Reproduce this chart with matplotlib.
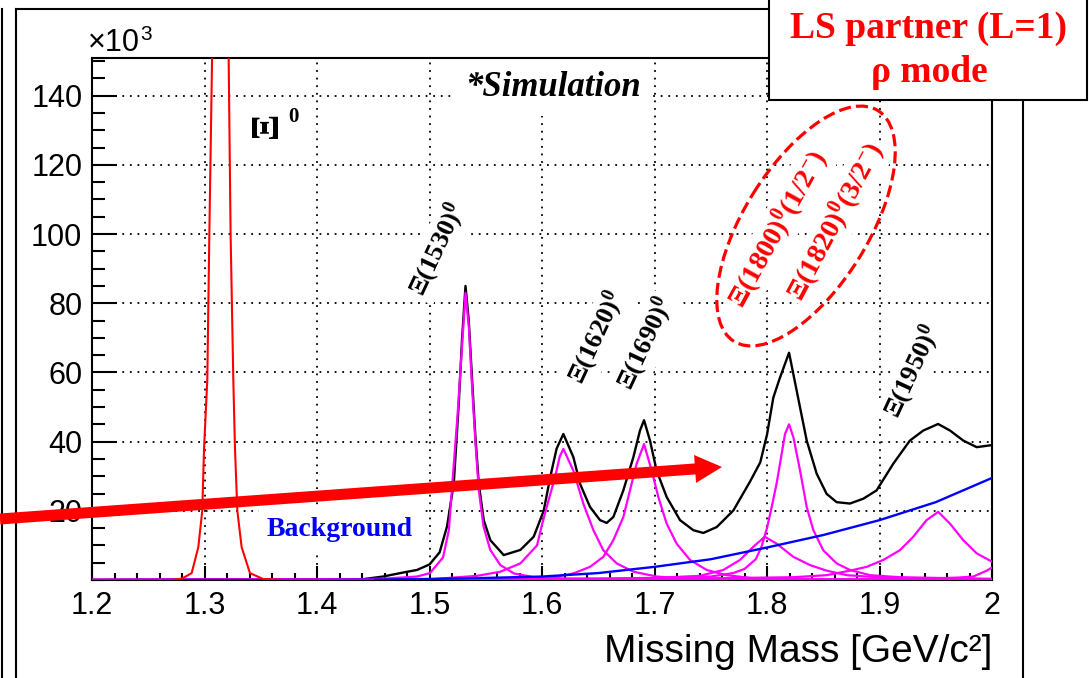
import matplotlib
matplotlib.use("Agg")
import matplotlib.pyplot as plt
from matplotlib.lines import Line2D
from matplotlib.patches import Ellipse, FancyArrow, Rectangle
from matplotlib.ticker import MultipleLocator, FuncFormatter
from matplotlib.transforms import Affine2D

# counts are in units of 10^3, mass in GeV/c^2
total_mass = [1.20, 1.44, 1.4587, 1.4772, 1.4889, 1.500, 1.509, 1.5156, 1.5216, 1.526,
              1.529, 1.532, 1.5349, 1.5379, 1.5408, 1.5438, 1.5482, 1.5541, 1.566, 1.5808,
              1.5926, 1.6015, 1.6075, 1.613, 1.619, 1.6279, 1.6338, 1.6427, 1.6516, 1.6575,
              1.6634, 1.6723, 1.6812, 1.6871, 1.6907, 1.696, 1.7019, 1.7108, 1.7227, 1.7345,
              1.7434, 1.7553, 1.7701, 1.785, 1.794, 1.800, 1.8056, 1.811, 1.8196, 1.8264,
              1.8353, 1.8442, 1.853, 1.8619, 1.8737, 1.8856, 1.8974, 1.9122, 1.927, 1.9389,
              1.9521, 1.9627, 1.9745, 1.9864, 2.000]
total_counts = [0.0, 0.2, 1.0, 2.2, 2.9, 4.5, 8.0, 15.5, 28.0, 51.0,
                70.0, 85.0, 75.0, 57.7, 41.4, 27.9, 17.3, 11.5, 7.2, 8.7,
                12.5, 20.0, 30.0, 38.0, 42.2, 35.5, 27.8, 21.1, 17.3, 16.5,
                18.2, 25.9, 35.5, 43.2, 46.2, 40.3, 31.6, 24.0, 17.3, 14.4,
                13.6, 15.3, 20.1, 28.5, 34.0, 42.0, 52.7, 58.0, 65.7, 54.7,
                40.3, 30.7, 24.9, 22.5, 22.1, 23.5, 25.9, 33.6, 40.3, 43.2,
                45.1, 43.2, 40.3, 38.4, 39.0]

xi1530_mass = [1.20, 1.42, 1.46, 1.4889, 1.5004, 1.512, 1.5172, 1.5201, 1.525, 1.529, 1.532,
               1.535, 1.538, 1.541, 1.5438, 1.548, 1.554, 1.563, 1.575, 1.593, 1.62, 1.70, 2.0]
xi1530_counts = [0.0, 0.1, 0.4, 1.0, 2.0, 6.5, 14.4, 27.0, 48.0, 68.0, 83.0,
                 73.0, 55.0, 39.0, 26.0, 15.5, 8.7, 4.3, 1.9, 0.8, 0.4, 0.1, 0.0]

xi1620_mass = [1.20, 1.50, 1.5423, 1.563, 1.5808, 1.5956, 1.600, 1.6041, 1.6118, 1.6157, 1.619,
               1.6279, 1.6368, 1.6457, 1.6545, 1.6664, 1.6812, 1.702, 1.7227, 1.76, 1.85, 2.0]
xi1620_counts = [0.0, 0.2, 1.2, 2.4, 4.8, 10.0, 16.0, 21.0, 30.0, 35.6, 37.9,
                 31.6, 22.0, 14.4, 8.6, 4.8, 2.4, 1.0, 0.5, 0.3, 0.1, 0.0]

xi1690_mass = [1.20, 1.55, 1.6101, 1.6279, 1.6427, 1.6545, 1.6634, 1.6723, 1.6782, 1.6841, 1.6907,
               1.6975, 1.7034, 1.7108, 1.7197, 1.7316, 1.7464, 1.7641, 1.7878, 1.85, 2.0]
xi1690_counts = [0.0, 0.3, 0.8, 1.9, 3.8, 6.7, 11.5, 18.2, 25.9, 33.6, 39.3,
                 31.6, 24.0, 16.3, 10.5, 5.8, 2.9, 1.4, 0.5, 0.2, 0.0]

xi1800_mass = [1.20, 1.60, 1.70, 1.7404, 1.7612, 1.776, 1.7878, 1.798, 1.8086, 1.8234,
               1.8383, 1.8531, 1.8708, 1.8975, 1.95, 2.0]
xi1800_counts = [0.0, 0.3, 0.6, 1.2, 2.9, 5.8, 9.6, 12.5, 10.5, 6.7,
                 4.3, 2.7, 1.4, 0.8, 0.4, 0.3]

xi1820_mass = [1.20, 1.65, 1.72, 1.75, 1.77, 1.78, 1.79, 1.795, 1.800, 1.8041, 1.8086, 1.813,
               1.816, 1.8196, 1.8235, 1.8294, 1.8353, 1.8412, 1.850, 1.8619, 1.8737, 1.8915, 1.918, 2.0]
xi1820_counts = [0.0, 0.2, 0.5, 1.0, 2.0, 3.2, 6.0, 9.5, 15.0, 21.0, 28.0, 36.4,
                 42.2, 45.0, 41.2, 31.6, 21.1, 14.4, 8.6, 4.8, 2.9, 1.4, 0.8, 0.3]

xi1950_mass = [1.20, 1.70, 1.8234, 1.8531, 1.8737, 1.8886, 1.9034, 1.9181, 1.930, 1.9418,
               1.9522, 1.9626, 1.9745, 1.9864, 2.0]
xi1950_counts = [0.0, 0.3, 0.8, 1.4, 2.7, 3.8, 5.8, 8.6, 12.5, 17.3,
                 19.7, 16.3, 11.5, 7.7, 5.3]

xi_high_mass = [1.20, 1.85, 1.93, 1.97, 1.9835, 1.9953, 2.0]
xi_high_counts = [0.0, 0.1, 0.3, 0.7, 1.0, 2.7, 3.6]

bkg_mass = [1.20, 1.40, 1.45, 1.50, 1.55, 1.60, 1.65, 1.70, 1.75, 1.80, 1.85, 1.90, 1.95, 2.00]
bkg_counts = [0.0, 0.0, 0.1, 0.3, 0.6, 1.0, 2.0, 3.8, 6.0, 9.4, 13.0, 17.3, 22.5, 29.5]

xi0_mass = [1.20, 1.27, 1.280, 1.2886, 1.2945, 1.298, 1.2996, 1.3025, 1.3043, 1.3067, 1.3087,
            1.3111, 1.3141, 1.3171, 1.3195, 1.3215, 1.3232, 1.3256, 1.3271, 1.3292, 1.333,
            1.3404, 1.352, 1.37, 1.45]
xi0_counts = [0.0, 0.0, 0.4, 2.0, 9.5, 20.0, 38.0, 58.0, 100.0, 150.0, 200.0,
              250.0, 277.0, 250.0, 200.0, 150.0, 100.0, 58.0, 38.0, 20.0, 9.5,
              2.0, 0.3, 0.0, 0.0]

y_ticks = [20, 40, 60, 80, 100, 120, 140]

W, H, DPI = 1089, 678, 100

plt.rcParams["font.family"] = ["Liberation Sans", "DejaVu Sans"]
plt.rcParams["mathtext.fontset"] = "custom"
plt.rcParams["mathtext.rm"] = "Liberation Serif:bold"
plt.rcParams["mathtext.it"] = "Liberation Serif:italic:bold"
plt.rcParams["mathtext.bf"] = "Liberation Serif:bold"

fig = plt.figure(figsize=(W / DPI, H / DPI), dpi=DPI)
ax = fig.add_axes([92 / W, 1 - 580 / H, 900 / W, 522 / H])

# picture pixel coordinates (y down) for the annotations
px = Affine2D().scale(1 / DPI, -1 / DPI).translate(0, H / DPI) + fig.dpi_scale_trans

ax.plot(total_mass, total_counts, color="black", lw=1.7, zorder=3)
components = [(xi1530_mass, xi1530_counts), (xi1620_mass, xi1620_counts),
              (xi1690_mass, xi1690_counts), (xi1800_mass, xi1800_counts),
              (xi1820_mass, xi1820_counts), (xi1950_mass, xi1950_counts),
              (xi_high_mass, xi_high_counts)]
for m, c in components:
    ax.plot(m, c, color="#ff00ff", lw=1.6, zorder=4)
ax.plot(bkg_mass, bkg_counts, color="#0000ff", lw=1.7, zorder=5)
ax.plot(xi0_mass, xi0_counts, color="#ff0000", lw=1.5, zorder=5)

ax.set_xlim(1.2, 2.0)
ax.set_ylim(0, 150.9)
ax.xaxis.set_major_locator(MultipleLocator(0.1))
ax.xaxis.set_minor_locator(MultipleLocator(0.02))
ax.xaxis.set_major_formatter(FuncFormatter(lambda v, p: f"{v:g}"))
ax.set_yticks(y_ticks)
ax.yaxis.set_minor_locator(MultipleLocator(5))
ax.tick_params(which="both", direction="in", width=1.5, colors="black", labelsize=22)
ax.tick_params(axis="y", which="major", length=18, pad=7)
ax.tick_params(axis="y", which="minor", length=9.5)
ax.tick_params(axis="x", which="major", length=10, pad=8)
ax.tick_params(axis="x", which="minor", length=5)
ax.grid(True, which="major", color="black", lw=1.3, linestyle=(0, (1, 3.2)))
for s in ax.spines.values():
    s.set_linewidth(1.5)

serif = dict(family="Liberation Serif", weight="bold")
white = dict(fc="white", ec="none", pad=2)


def label(x, y, s, color="black", size=19, rot=65, box=white, va="center", **kw):
    ax.text(x, y, s, transform=px, rotation=rot, rotation_mode="anchor",
            ha="center", va=va, fontsize=size, color=color, zorder=1.8,
            bbox=box, **serif, **kw)


label(438, 250, "Ξ(1530)$^{0}$")
label(597, 338, "Ξ(1620)$^{0}$")
label(646, 344, "Ξ(1690)$^{0}$")
label(913, 372, "Ξ(1950)$^{0}$")
label(778, 229, "Ξ(1800)$^{0}$(1/2$^{-}$)", color="red", size=20.5, rot=61)
label(836, 222, "Ξ(1820)$^{0}$(3/2$^{-}$)", color="red", size=20.5, rot=62)
label(277, 125, "Ξ", size=28, rot=90, box=None, va="baseline")
label(293, 117, "0", size=15, rot=0, box=None)
label(553, 88, "*Simulation", size=25, rot=0, box=dict(fc="white", ec="none", pad=8),
      style="italic")
label(340, 529, "Background", color="#0000ff", size=20, rot=0,
      box=dict(fc="white", ec="none", pad=6))

fig.text(140, 43, "×10", transform=px, ha="right", va="center", fontsize=22)
fig.text(140, 34, "3", transform=px, ha="left", va="center", fontsize=15)
fig.text(992, 652, "Missing Mass [GeV/c²]", transform=px, ha="right", va="center",
         fontsize=28)

# slide frame lines
for xs, ys in [([16, 16], [9, 678]), ([16, 769], [9, 9]), ([1.5, 1.5], [9, 678]),
               ([1023, 1023], [100, 678])]:
    fig.add_artist(Line2D(xs, ys, transform=px, color="black", lw=1.5, zorder=1))

fig.add_artist(Ellipse((806, 226), 272, 124, angle=-58, fill=False, ec="red", lw=2.3,
                       ls=(0, (3.8, 1.6)), transform=px, zorder=2))
fig.add_artist(Rectangle((769, -10), 318, 110, fc="white", ec="black", lw=1.5,
                         transform=px, zorder=5))
fig.text(928, 28, "LS partner (L=1)", transform=px, ha="center", va="center",
         fontsize=27, color="red", zorder=6, **serif)
fig.text(929, 72, "ρ mode", transform=px, ha="center", va="center",
         fontsize=27, color="red", zorder=6, **serif)
fig.add_artist(FancyArrow(0, 519, 722, -52, width=11, head_width=28, head_length=27,
                          length_includes_head=True, color="red", lw=0,
                          transform=px, zorder=7))

fig.savefig("out.png", dpi=DPI)
